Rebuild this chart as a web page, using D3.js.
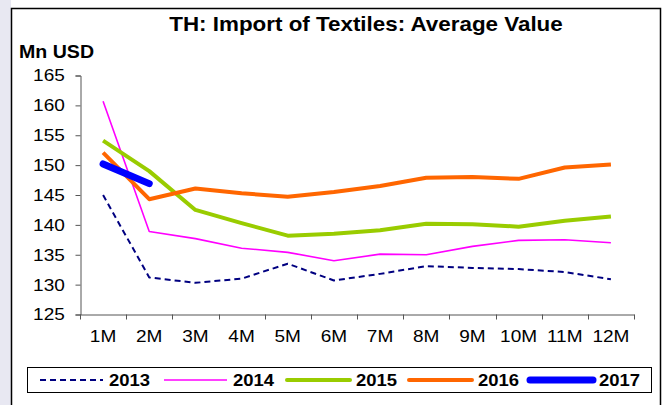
<!DOCTYPE html>
<html>
<head>
<meta charset="utf-8">
<script src="https://cdn.jsdelivr.net/npm/d3@7"></script>
<style>
  body { margin: 0; background: #fff; font-family: "Liberation Sans", Arial, sans-serif; }
</style>
</head>
<body>
<div id="chart"></div>
<script>
// Chart data
var months = ["1M", "2M", "3M", "4M", "5M", "6M", "7M", "8M", "9M", "10M", "11M", "12M"];
var yTicks = [125, 130, 135, 140, 145, 150, 155, 160, 165];
var years = ["2013", "2014", "2015", "2016", "2017"];
var v2013 = [145.0, 131.2, 130.3, 131.0, 133.5, 130.7, 131.8, 133.1, 132.8, 132.6, 132.1, 130.9];
var v2014 = [160.7, 138.9, 137.7, 136.1, 135.4, 134.0, 135.1, 135.0, 136.4, 137.4, 137.5, 137.0];
var v2015 = [154.1, 149.0, 142.5, 140.3, 138.2, 138.5, 139.1, 140.2, 140.1, 139.7, 140.7, 141.4];
var v2016 = [152.1, 144.3, 146.1, 145.3, 144.7, 145.5, 146.5, 147.9, 148.0, 147.7, 149.6, 150.1];
var v2017 = [150.2, 146.9];

var width = 667;
var height = 405;
var stretch = 1.12; // text in the original is a bit wider than it is tall

var series = [
    { name: years[0], values: v2013, color: "#000080", width: 2, dash: "6,4" },
    { name: years[1], values: v2014, color: "#ff00ff", width: 1.6, dash: null },
    { name: years[2], values: v2015, color: "#99cc00", width: 4, dash: null },
    { name: years[3], values: v2016, color: "#ff6600", width: 4, dash: null },
    { name: years[4], values: v2017, color: "#0000ff", width: 7, dash: null }
];

var svg = d3.select("#chart")
    .append("svg")
    .attr("width", width)
    .attr("height", height);

// light strip on the left, outside the chart frame
svg.append("rect")
    .attr("x", 0).attr("y", 0)
    .attr("width", 11).attr("height", height)
    .attr("fill", "#e8e8f2");

// chart frame
svg.append("rect")
    .attr("x", 11.5).attr("y", 8.5)
    .attr("width", 649).attr("height", 410)
    .attr("fill", "#fff")
    .attr("stroke", "#000")
    .attr("stroke-width", 1.5);

// title and unit label, placed with a transform so they can be stretched
svg.append("text")
    .attr("transform", "translate(366,31) scale(" + stretch + ",1)")
    .attr("text-anchor", "middle")
    .style("font-size", "20px")
    .style("font-weight", "bold")
    .text("TH: Import of Textiles: Average Value");

svg.append("text")
    .attr("transform", "translate(19,58) scale(" + stretch + ",1)")
    .style("font-size", "17.5px")
    .style("font-weight", "bold")
    .text("Mn USD");

// scales
var x = d3.scaleBand()
    .domain(months)
    .range([80, 634]);

var y = d3.scaleLinear()
    .domain([125, 165])
    .range([314.5, 75.5]);

// axes
var yAxis = svg.append("g")
    .attr("transform", "translate(80.5,0)")
    .call(d3.axisLeft(y).tickValues(yTicks).tickSize(5).tickPadding(9));

var xAxis = svg.append("g")
    .attr("transform", "translate(0,314.5)")
    .call(d3.axisBottom(x).tickSize(0).tickPadding(15));

// tick marks at band edges
xAxis.selectAll(".edge")
    .data(months.concat([""]))
    .enter()
    .append("line")
    .attr("class", "edge")
    .attr("x1", function (d, i) { return Math.round(80 + i * x.step()) + 0.5; })
    .attr("x2", function (d, i) { return Math.round(80 + i * x.step()) + 0.5; })
    .attr("y1", 0)
    .attr("y2", 5)
    .attr("stroke", "#555");

[yAxis, xAxis].forEach(function (g) {
    g.select(".domain").attr("stroke", "#555");
    g.selectAll(".tick line").attr("stroke", "#555");
    g.selectAll("text")
        .style("font-size", "17px")
        .style("font-family", "'Liberation Sans', Arial, sans-serif")
        .attr("fill", "#000")
        .attr("transform", "scale(" + stretch + ",1)");
});

// lines
var line = d3.line()
    .x(function (d, i) { return x(months[i]) + x.bandwidth() / 2; })
    .y(function (d) { return y(d); });

svg.selectAll(".series")
    .data(series)
    .enter()
    .append("path")
    .attr("class", "series")
    .attr("d", function (d) { return line(d.values); })
    .attr("fill", "none")
    .attr("stroke", function (d) { return d.color; })
    .attr("stroke-width", function (d) { return d.width; })
    .attr("stroke-dasharray", function (d) { return d.dash; })
    .attr("stroke-linecap", function (d) { return d.name === "2017" ? "round" : "butt"; })
    .attr("stroke-linejoin", "round");

// legend
svg.append("rect")
    .attr("x", 27.5).attr("y", 367.5)
    .attr("width", 624).attr("height", 25)
    .attr("fill", "#fff")
    .attr("stroke", "#000")
    .attr("stroke-width", 1);

var legendX = [40, 164, 287, 409, 530];

var legend = svg.selectAll(".legend")
    .data(series)
    .enter()
    .append("g")
    .attr("class", "legend")
    .attr("transform", function (d, i) { return "translate(" + legendX[i] + ",380)"; });

legend.append("line")
    .attr("x1", 0).attr("x2", 63)
    .attr("y1", 0).attr("y2", 0)
    .attr("stroke", function (d) { return d.color; })
    .attr("stroke-width", function (d) { return d.width; })
    .attr("stroke-dasharray", function (d) { return d.dash; })
    .attr("stroke-linecap", function (d) { return d.width > 3 ? "round" : "butt"; });

legend.append("text")
    .attr("transform", "translate(69,6) scale(" + stretch + ",1)")
    .style("font-size", "16.5px")
    .style("font-weight", "bold")
    .text(function (d) { return d.name; });
</script>
</body>
</html>
